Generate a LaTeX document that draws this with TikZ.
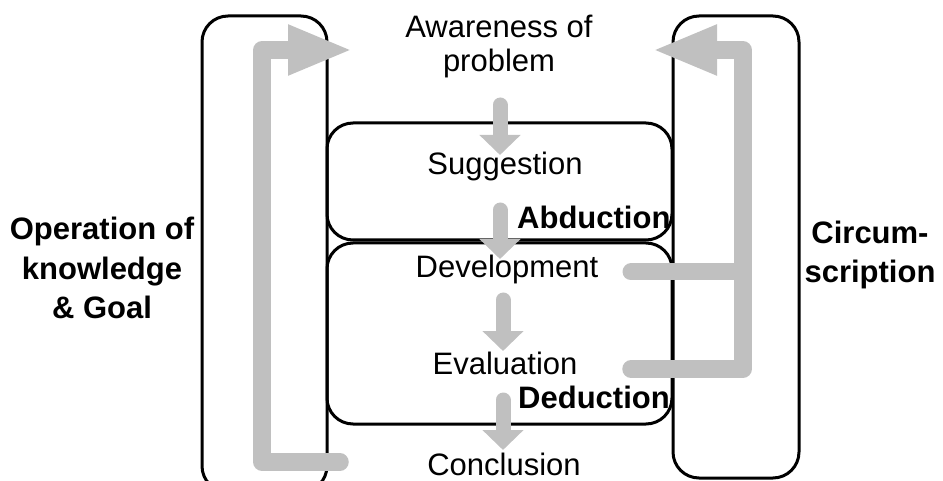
\documentclass[tikz,border=0pt]{standalone}
\usepackage{fontspec}
\setmainfont{Liberation Sans}
\usetikzlibrary{arrows.meta}
\definecolor{arrgray}{RGB}{192,192,192}
\tikzset{
 frame/.style={draw=black, line width=3pt, rounded corners=26pt},
 lbl/.style={font=\fontsize{31}{34}\selectfont, inner sep=0pt, anchor=base, align=center},
 blbl/.style={font=\bfseries\fontsize{31}{39}\selectfont, inner sep=0pt, anchor=base, align=center},
 bigarr/.style={draw=arrgray, line width=17.5pt, line cap=round, line join=round, -{Triangle[length=65pt,width=46pt]}},
 midarr/.style={draw=arrgray, line width=15pt, line cap=round, -{Triangle[length=20pt,width=40pt]}},
 feed/.style={draw=arrgray, line width=17pt, line cap=round, line join=round},
}
\begin{document}
\begin{tikzpicture}[x=1pt,y=-1pt]
\useasboundingbox (0,0) rectangle (943,481);
% frames
\draw[frame] (202,16) rectangle (327,492);
\draw[frame] (673,16) rectangle (799,478);
\draw[frame] (327,123) rectangle (672,240);
\draw[frame] (327,243) rectangle (672,424);
% coordinates for connectors
\coordinate (lb) at (340,462);
\coordinate (lc1) at (262,462);
\coordinate (lc2) at (262,50);
\coordinate (lt) at (353,50);
\coordinate (rd) at (631,272);
\coordinate (rdj) at (743,272);
\coordinate (re) at (631,369);
\coordinate (rc1) at (743,369);
\coordinate (rc2) at (743,50);
\coordinate (rt) at (652,50);
\coordinate (m1s) at (500,105); \coordinate (m1e) at (500,155);
\coordinate (m2s) at (500,210); \coordinate (m2e) at (500,259);
\coordinate (m3s) at (503,300); \coordinate (m3e) at (503,351);
\coordinate (m4s) at (503,400); \coordinate (m4e) at (503,450);
% gray arrows
\draw[bigarr] (lb) -- (lc1) -- (lc2) -- (lt);
\draw[bigarr] (re) -- (rc1) -- (rc2) -- (rt);
\draw[feed] (rd) -- (rdj);
\draw[midarr] (m1s) -- (m1e);
\draw[midarr] (m2s) -- (m2e);
\draw[midarr] (m3s) -- (m3e);
\draw[midarr] (m4s) -- (m4e);
% texts (multi-line nodes: base = last line's baseline)
\node[lbl] (aw) at (499,72) {Awareness of\\problem};
\node[lbl] (sg) at (505,175) {Suggestion};
\node[lbl] (dv) at (507,278) {Development};
\node[lbl] (ev) at (505,374) {Evaluation};
\node[lbl] (cc) at (504,475) {Conclusion};
\node[blbl, anchor=base west] (ab) at (517,229) {Abduction};
\node[blbl, anchor=base west] (de) at (518,408) {Deduction};
\node[blbl] (op) at (102,318) {Operation of\\knowledge\\\& Goal};
\node[blbl] (ci) at (870,283) {Circum-\\scription};
\end{tikzpicture}
\end{document}
